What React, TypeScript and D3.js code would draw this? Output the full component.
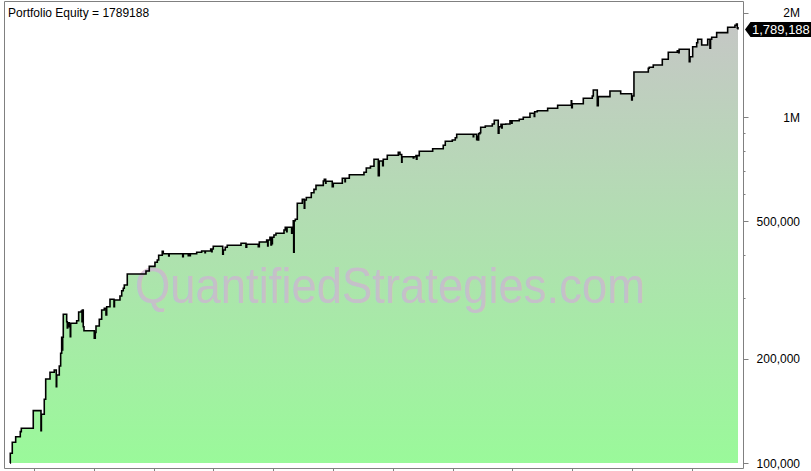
import React from "react";
import * as d3 from "d3";

const years = [
  0.599, 0.604, 0.637, 0.694, 0.771, 0.788, 0.988, 1.117, 1.124, 1.172, 1.196, 1.268, 1.339, 1.373, 1.38,
  1.423, 1.446, 1.463, 1.473, 1.48, 1.49, 1.547, 1.557, 1.564, 1.59, 1.607, 1.614, 1.714, 1.747, 1.791,
  1.803, 1.809, 1.824, 1.836, 2.008, 2.025, 2.037, 2.092, 2.132, 2.176, 2.204, 2.216, 2.271, 2.338, 2.346,
  2.438, 2.467, 2.493, 2.51, 2.56, 2.873, 2.928, 3.023, 3.062, 3.085, 3.145, 3.162, 3.253, 3.261, 3.487,
  3.497, 3.58, 3.587, 3.609, 3.615, 3.721, 3.804, 3.86, 3.866, 3.955, 3.972, 3.978, 3.998, 4.156, 4.166,
  4.199, 4.232, 4.462, 4.545, 4.557, 4.751, 4.768, 4.891, 4.908, 4.915, 4.946, 4.963, 4.972, 4.98, 4.987,
  5.013, 5.047, 5.181, 5.202, 5.226, 5.232, 5.309, 5.316, 5.336, 5.343, 5.351, 5.37, 5.403, 5.487, 5.52,
  5.528, 5.554, 5.637, 5.682, 5.716, 5.838, 5.855, 5.878, 5.883, 5.988, 6.005, 6.156, 6.201, 6.207, 6.273,
  6.518, 6.557, 6.627, 6.686, 6.758, 6.774, 6.831, 6.841, 6.908, 7.092, 7.12, 7.149, 7.155, 7.343, 7.351,
  7.388, 7.396, 7.405, 7.443, 7.667, 7.844, 7.878, 7.995, 8.045, 8.069, 8.346, 8.353, 8.403, 8.413, 8.425,
  8.436, 8.458, 8.47, 8.547, 8.664, 8.697, 8.764, 8.776, 8.809, 8.821, 8.829, 8.888, 8.96, 8.988, 8.995,
  9.115, 9.182, 9.294, 9.366, 9.373, 9.416, 9.59, 9.757, 9.985, 9.992, 10.002, 10.186, 10.336, 10.353, 10.42,
  10.436, 10.632, 10.811, 10.995, 11.005, 11.033, 11.273, 11.289, 11.356, 11.507, 11.607, 11.758, 11.781, 11.789, 11.958,
  11.97, 12.015, 12.082, 12.099, 12.166, 12.266, 12.304, 12.314, 12.333, 12.416, 12.6, 12.722, 12.747, 12.761, 12.773,
];

const equity = [
  100000, 106700, 114800, 119100, 123200, 126000, 141700, 124000, 138300, 152800, 174900, 182900, 185700, 166200, 179600,
  190700, 207600, 230800, 212100, 230800, 269000, 256100, 245600, 254400, 247700, 231700, 253400, 257800, 273200, 275000,
  256100, 276800, 247700, 241200, 229300, 238600, 248900, 260200, 276800, 280000, 267700, 283000, 297300, 283000, 296000,
  303900, 314800, 319800, 327000, 351800, 358900, 370000, 380300, 386100, 398400, 409100, 402600, 396500, 402600, 394700,
  402600, 397000, 402600, 397000, 402600, 406400, 409900, 405300, 409900, 415400, 408000, 415400, 423000, 401100, 412700,
  420200, 425800, 431500, 420200, 428700, 421800, 435200, 441100, 423800, 441100, 449000, 427000, 449000, 430000, 449000,
  456000, 461200, 471400, 480000, 466100, 480000, 461200, 480000, 501500, 406400, 501500, 506200, 563000, 578100, 545000,
  575400, 585000, 604100, 617900, 634600, 653100, 660500, 643300, 652200, 628800, 643300, 665000, 650000, 665000, 681100,
  692200, 712300, 720300, 754600, 676600, 746100, 723100, 754600, 775000, 790700, 779000, 740600, 767900, 761200, 767900,
  773200, 754600, 773200, 796000, 809900, 828400, 850800, 858100, 871400, 891300, 877300, 891300, 860000, 880000, 858000,
  895000, 900700, 933600, 941800, 954500, 978400, 897200, 937300, 952600, 930000, 952600, 954500, 975700, 959800, 975700,
  984800, 997900, 1024900, 1004000, 1035800, 1042800, 1059500, 1081000, 1114600, 1063000, 1092500, 1132400, 1150000, 1196800, 1078300,
  1145300, 1188800, 1167600, 1120000, 1150000, 1349300, 1382900, 1392000, 1413600, 1468300, 1538200, 1554600, 1535000, 1569300, 1444900,
  1493900, 1596600, 1639800, 1677200, 1614600, 1677200, 1579800, 1677200, 1700000, 1752800, 1816400, 1840800, 1857000, 1810000, 1789188,
];

const yearTicks = [1, 2, 3, 4, 5, 6, 7, 8, 9, 10, 11, 12];
const majorTicks = [100000, 200000, 500000, 1000000, 2000000];
const majorLabels = ["100,000", "200,000", "500,000", "1M", "2M"];
const minorTicks = [300000, 400000, 600000, 700000, 800000, 900000];
const titleText = "Portfolio Equity = 1789188";
const lastLabel = "1,789,188";
const watermark = "QuantifiedStrategies.com";

const W = 811;
const H = 471;
const frame = { left: 4.5, right: 743.5, top: 1.5, bottom: 468.5 };
const FONT = "Arial, 'Liberation Sans', sans-serif";

export default function App() {
  const data = years.map((t, i) => ({ t, v: equity[i] }));
  const x = d3.scaleLinear().domain([years[0], years[years.length - 1]]).range([10, 738]);
  const y = d3.scaleLog().domain([100000, 1000000]).range([463, 117]);

  const area = d3
    .area<{ t: number; v: number }>()
    .x((d) => x(d.t))
    .y0(y(100000))
    .y1((d) => y(d.v))
    .curve(d3.curveStepAfter);
  const line = d3
    .line<{ t: number; v: number }>()
    .x((d) => x(d.t))
    .y((d) => y(d.v))
    .curve(d3.curveStepAfter);

  const last = equity[equity.length - 1];
  const ly = y(last);

  return (
    <svg
      width={W}
      height={H}
      style={{ position: "absolute", left: 0, top: 0, background: "#fff" }}
      fontFamily={FONT}
    >
      <defs>
        <linearGradient id="eqGrad" gradientUnits="userSpaceOnUse" x1="0" y1="15" x2="0" y2="463">
          <stop offset="0" stopColor="#c6c6c6" />
          <stop offset="1" stopColor="#9af99a" />
        </linearGradient>
        <clipPath id="plotClip">
          <rect x={frame.left} y={frame.top} width={frame.right - frame.left} height={frame.bottom - frame.top} />
        </clipPath>
      </defs>

      <g clipPath="url(#plotClip)">
        <path d={area(data) || ""} fill="url(#eqGrad)" />
        <text
          x={390}
          y={303}
          fontSize={50}
          textAnchor="middle"
          textLength={510}
          lengthAdjust="spacingAndGlyphs"
          fill="rgb(205,182,210)"
          fillOpacity={0.78}
        >
          {watermark}
        </text>
        <path d={line(data) || ""} fill="none" stroke="#000" strokeWidth={1.6} />
      </g>

      {/* frame */}
      <path
        d={`M${frame.left},${frame.top}H${frame.right}V${frame.bottom}H${frame.left}Z`}
        fill="none"
        stroke="#808080"
        strokeWidth={1}
      />

      {/* x ticks */}
      {yearTicks.map((t) => (
        <line key={t} x1={Math.round(x(t)) + 0.5} x2={Math.round(x(t)) + 0.5} y1={frame.bottom} y2={H} stroke="#808080" />
      ))}

      {/* y axis ticks */}
      {majorTicks.map((v, i) => (
        <g key={v}>
          <line x1={frame.right} x2={frame.right + 5} y1={Math.round(y(v)) + 0.5} y2={Math.round(y(v)) + 0.5} stroke="#808080" />
          <text x={800} y={y(v) + 4.5} fontSize={12} textAnchor="end" fill="#000">
            {majorLabels[i]}
          </text>
        </g>
      ))}
      {minorTicks.map((v) => (
        <line key={v} x1={frame.right} x2={frame.right + 2} y1={Math.round(y(v)) + 0.5} y2={Math.round(y(v)) + 0.5} stroke="#808080" />
      ))}

      {/* last value marker */}
      <path d={`M${frame.right + 1.5},${ly}L${frame.right + 7},${ly - 7.5}H${W + 5}V${ly + 7.5}H${frame.right + 7}Z`} fill="#000" />
      <text x={frame.right + 8.5} y={ly + 4.8} fontSize={13} fill="#fff">
        {lastLabel}
      </text>

      <text x={8} y={17} fontSize={12} fill="#000">
        {titleText}
      </text>
    </svg>
  );
}
